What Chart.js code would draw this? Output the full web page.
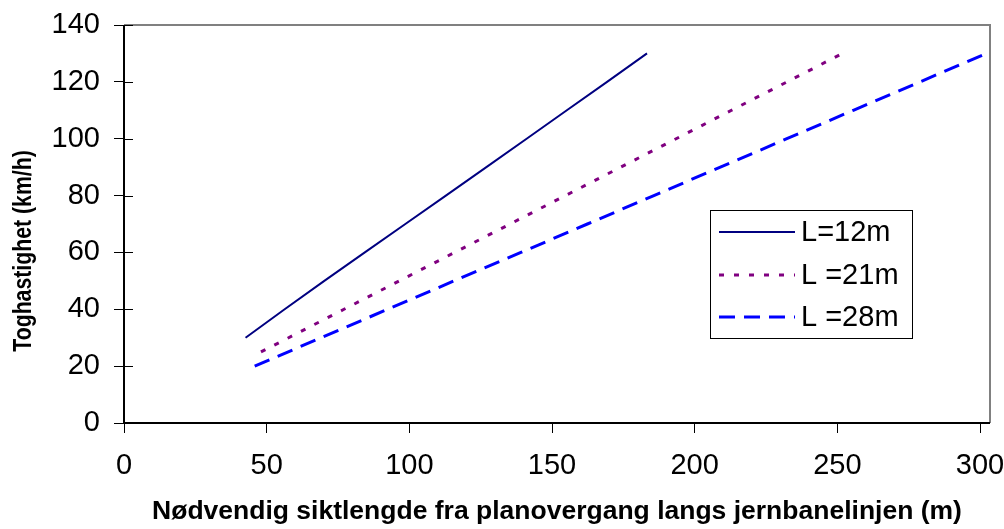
<!DOCTYPE html>
<html>
<head>
<meta charset="utf-8">
<script src="https://cdn.jsdelivr.net/npm/chart.js@4/dist/chart.umd.min.js"></script>
<style>
  html, body { margin: 0; padding: 0; background: #fff; }
  #wrap { width: 1004px; height: 529px; }
</style>
</head>
<body>
<div id="wrap"><canvas id="chart" width="1004" height="529"></canvas></div>
<script>
// Data (sight distance in m, train speed in km/h)
const seriesNames = ['L=12m', 'L =21m', 'L =28m'];

const speedL12 = [30, 40, 50, 60, 70, 80, 90, 100, 110, 120, 130];
const distL12 = [42.6, 56.3, 70.2, 84.4, 98.6, 112.8, 127, 141.1, 155.2, 169.3, 183.3];

const speedL21 = [25, 30, 40, 50, 60, 70, 80, 90, 100, 110, 120, 130];
const distL21 = [48, 57.7, 77.1, 96.5, 115.9, 135.3, 154.7, 174.1, 193.5, 212.9, 232.4, 251.8];

const speedL28 = [20, 30, 40, 50, 60, 70, 80, 90, 100, 110, 120, 130];
const distL28 = [45.8, 69.1, 92.4, 115.7, 139.1, 162.4, 185.7, 209, 232.3, 255.6, 279, 302.2];

const xTicks = [0, 50, 100, 150, 200, 250, 300];
const yTicks = [0, 20, 40, 60, 80, 100, 120, 140];
const yTitle = 'Toghastighet (km/h)';

const toPoints = (xs, ys) => xs.map((x, i) => ({ x: x, y: ys[i] }));

const FONT = 'Arial, "Liberation Sans", sans-serif';

// Plot frame, inner tick marks, y title and legend box
const framePlugin = {
    id: 'frame',
    afterDraw(chart) {
        const ctx = chart.ctx;
        const a = chart.chartArea;
        const ys = chart.scales.y;
        ctx.save();
        // gray top/right border
        ctx.strokeStyle = '#808080';
        ctx.lineWidth = 2;
        ctx.beginPath();
        ctx.moveTo(a.left, a.top);
        ctx.lineTo(a.right, a.top);
        ctx.lineTo(a.right, a.bottom);
        ctx.stroke();
        // black axes
        ctx.strokeStyle = '#000';
        ctx.lineWidth = 2;
        ctx.beginPath();
        ctx.moveTo(a.left, a.top);
        ctx.lineTo(a.left, a.bottom);
        ctx.lineTo(a.right, a.bottom);
        ctx.stroke();
        // inner halves of the cross tick marks
        ctx.lineWidth = 1;
        ctx.beginPath();
        yTicks.forEach(v => {
            const py = Math.round(ys.getPixelForValue(v)) + 0.5;
            ctx.moveTo(a.left, py);
            ctx.lineTo(a.left + 9, py);
        });
        ctx.stroke();

        // y axis title, a bit squeezed along its length like the original
        ctx.save();
        ctx.translate(24, 251);
        ctx.rotate(-Math.PI / 2);
        ctx.scale(0.85, 1);
        ctx.fillStyle = '#000';
        ctx.font = 'bold 25px ' + FONT;
        ctx.textAlign = 'center';
        ctx.textBaseline = 'middle';
        ctx.fillText(yTitle, 0, 0);
        ctx.restore();

        // legend
        const lx = 710, ly = 210, lw = 202, lh = 128;
        ctx.fillStyle = '#fff';
        ctx.fillRect(lx, ly, lw, lh);
        ctx.strokeStyle = '#000';
        ctx.lineWidth = 1;
        ctx.strokeRect(lx + 0.5, ly + 0.5, lw, lh);
        const rows = [232, 275, 317];
        chart.data.datasets.forEach((ds, i) => {
            ctx.strokeStyle = ds.borderColor;
            ctx.lineWidth = ds.borderWidth;
            ctx.setLineDash(ds.borderDash || []);
            ctx.beginPath();
            ctx.moveTo(719, rows[i]);
            ctx.lineTo(795, rows[i]);
            ctx.stroke();
            ctx.setLineDash([]);
            ctx.fillStyle = '#000';
            ctx.font = '29px ' + FONT;
            ctx.textBaseline = 'middle';
            ctx.textAlign = 'left';
            ctx.fillText(ds.label, 801, rows[i] + 1);
        });
        ctx.restore();
    }
};

const ctx = document.getElementById('chart').getContext('2d');
const chart = new Chart(ctx, {
    type: 'scatter',
    data: {
        datasets: [{
            label: seriesNames[0],
            data: toPoints(distL12, speedL12),
            borderColor: '#000080',
            borderWidth: 2,
            showLine: true,
            pointRadius: 0
        }, {
            label: seriesNames[1],
            data: toPoints(distL21, speedL21),
            borderColor: '#800080',
            borderWidth: 3,
            borderDash: [5, 10],
            showLine: true,
            pointRadius: 0
        }, {
            label: seriesNames[2],
            data: toPoints(distL28, speedL28),
            borderColor: '#0000FF',
            borderWidth: 3,
            borderDash: [16, 9],
            showLine: true,
            pointRadius: 0
        }]
    },
    options: {
        responsive: false,
        animation: false,
        layout: { padding: { left: 0, right: 0, top: 25, bottom: 0 } },
        plugins: {
            legend: { display: false },
            tooltip: { enabled: false }
        },
        scales: {
            x: {
                type: 'linear',
                min: 0,
                max: 303.5,
                afterBuildTicks: axis => { axis.ticks = xTicks.map(v => ({ value: v })); },
                afterFit: axis => {
                    axis.height = 106;
                    axis.paddingLeft = 0;
                    axis.paddingRight = 14;
                },
                border: { display: false },
                grid: { drawOnChartArea: false, tickLength: 10, color: '#000' },
                ticks: {
                    color: '#000',
                    padding: 16,
                    maxRotation: 0,
                    font: { family: FONT, size: 29 }
                },
                title: {
                    display: true,
                    text: 'Nødvendig siktlengde fra planovergang langs jernbanelinjen (m)',
                    color: '#000',
                    padding: { top: 4, bottom: 1 },
                    font: { family: FONT, size: 26.5, weight: 'bold' }
                }
            },
            y: {
                min: 0,
                max: 140,
                afterBuildTicks: axis => { axis.ticks = yTicks.map(v => ({ value: v })); },
                afterFit: axis => {
                    axis.width = 124;
                    axis.paddingTop = 0;
                    axis.paddingBottom = 0;
                },
                border: { display: false },
                grid: { drawOnChartArea: false, tickLength: 10, color: '#000' },
                ticks: {
                    color: '#000',
                    padding: 14,
                    font: { family: FONT, size: 29 }
                },
                title: { display: false }
            }
        }
    },
    plugins: [framePlugin]
});
</script>
</body>
</html>
